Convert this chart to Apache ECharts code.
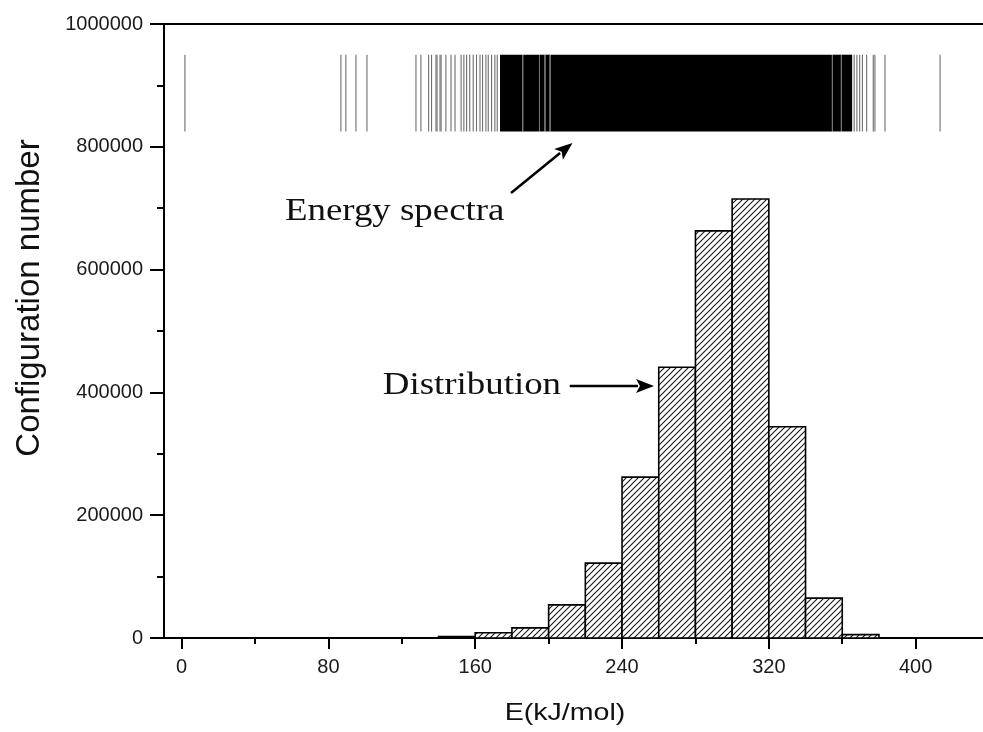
<!DOCTYPE html>
<html><head><meta charset="utf-8">
<script src="https://cdn.jsdelivr.net/npm/echarts@6/dist/echarts.min.js"></script>
<style>html,body{margin:0;padding:0;background:#fff}#c{width:983px;height:732px}</style>
</head><body><div id="c"></div>
<script>
// ---- data ----
const binStarts = [120, 140, 160, 180, 200, 220, 240, 260, 280, 300, 320, 340, 360];
const binEnds   = [140, 160, 180, 200, 220, 240, 260, 280, 300, 320, 340, 360, 380];
const binCounts = [500, 2500, 8500, 16500, 54000, 122000, 262000, 441000, 663000, 715000, 344000, 65000, 5500];

const spectraLines = [1.8, 86.8, 89.5, 95, 101, 127.7, 130.4, 134.6, 136.2, 138.6, 139.2, 140.8, 141.4,
  144, 146.8, 149, 152.3, 153.8, 155.3, 157, 158.9, 160.7, 162.6, 164, 165.8, 167.1, 168.9, 170.7, 172,
  185.9, 195, 198, 200.8, 354.6, 359.5,
  366.5, 368, 369.5, 371, 373.3, 376.9, 377.8, 383.3, 413.3];
const spectraBands = [[173.5, 185.7], [186.1, 194.8], [195.2, 197.8], [198.2, 200.6], [201.0, 354.4],
  [354.8, 359.3], [359.7, 365.4]];

const xTickValues = [0, 80, 160, 240, 320, 400];
const xMinorTickValues = [40, 120, 200, 280, 360];

// ---- styling / layout ----
const X_MIN = -9.6, X_MAX = 436.7;
const SPEC_TOP = 950000, SPEC_BOTTOM = 825000;

const pc = document.createElement('canvas');
pc.width = 6; pc.height = 6;
const g = pc.getContext('2d');
g.fillStyle = '#fff'; g.fillRect(0, 0, 6, 6);
g.strokeStyle = '#1a1a1a'; g.lineWidth = 1.1;
g.beginPath();
g.moveTo(0, 6); g.lineTo(6, 0);
g.moveTo(-1, 1); g.lineTo(1, -1);
g.moveTo(5, 7); g.lineTo(7, 5);
g.stroke();
const hatch = { image: pc, repeat: 'repeat' };

const chart = echarts.init(document.getElementById('c'), null, { renderer: 'canvas' });
const axisBase = { type: 'value', min: X_MIN, max: X_MAX, splitLine: { show: false } };
chart.setOption({
  animation: false,
  backgroundColor: '#fff',
  grid: { left: 164, top: 24, right: 0, bottom: 94 },
  xAxis: [
    Object.assign({}, axisBase, {
      position: 'bottom',
      axisLine: { show: true, onZero: false, lineStyle: { color: '#000', width: 2 } },
      axisTick: { show: true, length: 11, customValues: xTickValues, lineStyle: { color: '#000', width: 2 } },
      axisLabel: { customValues: xTickValues, color: '#1a1a1a', fontSize: 20, fontFamily: 'Liberation Sans', margin: 19 }
    }),
    Object.assign({}, axisBase, {
      position: 'bottom',
      axisLine: { show: false, onZero: false },
      axisTick: { show: true, length: 6, customValues: xMinorTickValues, lineStyle: { color: '#000', width: 2 } },
      axisLabel: { show: false, customValues: xMinorTickValues }
    }),
    Object.assign({}, axisBase, {
      position: 'top',
      axisLine: { show: true, onZero: false, lineStyle: { color: '#000', width: 2 } },
      axisTick: { show: false },
      axisLabel: { show: false }
    })
  ],
  yAxis: {
    type: 'value', min: 0, max: 1000000, interval: 200000,
    axisLine: { show: true, onZero: false, lineStyle: { color: '#000', width: 2 } },
    axisTick: { show: true, length: 14, lineStyle: { color: '#000', width: 2 } },
    minorTick: { show: true, splitNumber: 2, length: 7, lineStyle: { color: '#000', width: 2 } },
    axisLabel: { formatter: v => String(v), color: '#1a1a1a', fontSize: 20, fontFamily: 'Liberation Sans', margin: 21 },
    splitLine: { show: false }, minorSplitLine: { show: false }
  },
  series: [
    {
      type: 'custom', xAxisIndex: 0, yAxisIndex: 0, z: 3,
      data: binStarts.map((s, i) => [s, binEnds[i], binCounts[i]]),
      encode: { x: [0, 1], y: 2 },
      renderItem: (params, api) => {
        const p0 = api.coord([api.value(0), api.value(2)]);
        const p1 = api.coord([api.value(1), 0]);
        return { type: 'rect', shape: { x: p0[0], y: p0[1], width: p1[0] - p0[0], height: p1[1] - p0[1] },
          style: { fill: hatch, stroke: '#000', lineWidth: 1.6 } };
      }
    },
    {
      type: 'custom', xAxisIndex: 0, yAxisIndex: 0, z: 2,
      data: spectraBands,
      encode: { x: [0, 1] },
      renderItem: (params, api) => {
        const a = api.coord([api.value(0), SPEC_TOP]);
        const b = api.coord([api.value(1), SPEC_BOTTOM]);
        return { type: 'rect', shape: { x: a[0], y: a[1], width: b[0] - a[0], height: b[1] - a[1] },
          style: { fill: '#000' } };
      }
    },
    {
      type: 'custom', xAxisIndex: 0, yAxisIndex: 0, z: 2,
      data: spectraLines.map(e => [e]),
      encode: { x: 0 },
      renderItem: (params, api) => {
        const a = api.coord([api.value(0), SPEC_TOP]);
        const b = api.coord([api.value(0), SPEC_BOTTOM]);
        return { type: 'line', shape: { x1: a[0], y1: a[1], x2: b[0], y2: b[1] },
          style: { stroke: '#6e6e6e', lineWidth: 1.1 } };
      }
    }
  ]
});

// ---- annotations (anchored in data coordinates) ----
function px(p) { return chart.convertToPixel({ gridIndex: 0 }, p); }
function arrow(from, to, head, half, width) {
  const a = px(from), b = px(to);
  const dx = b[0] - a[0], dy = b[1] - a[1], L = Math.hypot(dx, dy);
  const ux = dx / L, uy = dy / L;
  const bx = b[0] - ux * head, by = b[1] - uy * head;
  return [
    { type: 'line', shape: { x1: a[0], y1: a[1], x2: bx + ux * 2, y2: by + uy * 2 }, style: { stroke: '#000', lineWidth: width }, z: 10 },
    { type: 'polygon', shape: { points: [[b[0], b[1]], [bx - uy * half, by + ux * half], [bx + ux * 4, by + uy * 4], [bx + uy * half, by - ux * half]] },
      style: { fill: '#000' }, z: 10 }
  ];
}
const esPos = px([56.3, 693800]);
const diPos = px([109.6, 410400]);
chart.setOption({
  graphic: [
    { type: 'text', x: esPos[0], y: esPos[1], scaleX: 1.19, z: 10,
      style: { text: 'Energy spectra', fontFamily: 'Liberation Serif', fontSize: 31, fill: '#111', align: 'left', verticalAlign: 'middle' } },
    { type: 'text', x: diPos[0], y: diPos[1], scaleX: 1.19, z: 10,
      style: { text: 'Distribution', fontFamily: 'Liberation Serif', fontSize: 31, fill: '#111', align: 'left', verticalAlign: 'middle' } },
    ...arrow([179.5, 724700], [213, 806200], 18, 7, 2.5),
    ...arrow([211.5, 410400], [257.4, 410400], 18, 7, 2.5),
    { type: 'text', x: 565, y: 713, scaleX: 1.19, z: 10,
      style: { text: 'E(kJ/mol)', fontFamily: 'Liberation Sans', fontSize: 24, fill: '#111', align: 'center', verticalAlign: 'middle' } },
    { type: 'text', x: 30, y: 298, rotation: Math.PI / 2, z: 10,
      style: { text: 'Configuration number', fontFamily: 'Liberation Sans', fontSize: 33, fill: '#111', align: 'center', verticalAlign: 'middle' } }
  ]
});
</script></body></html>
